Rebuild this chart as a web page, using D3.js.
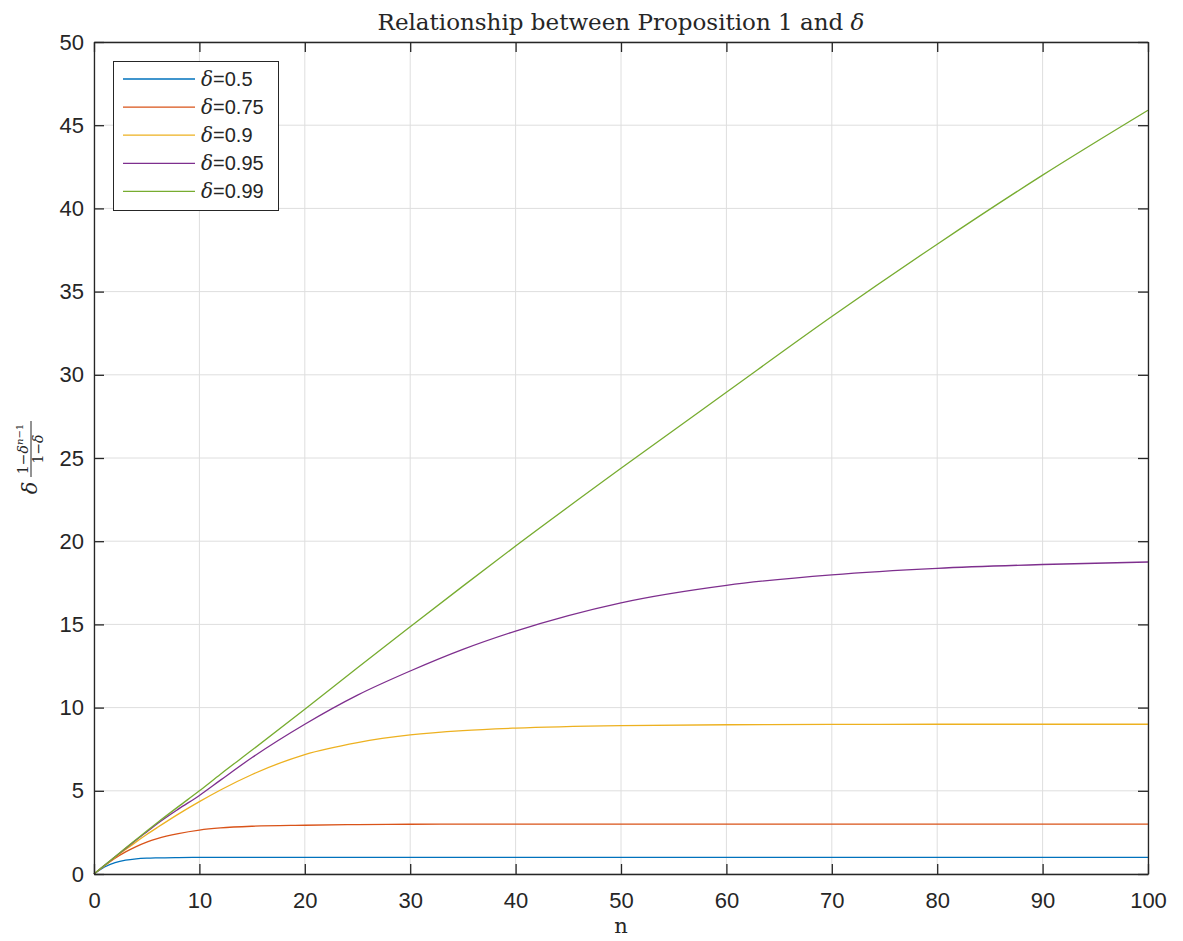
<!DOCTYPE html>
<html>
<head>
<meta charset="utf-8">
<script src="https://cdn.jsdelivr.net/npm/d3@7"></script>
<style>
  body { margin: 0; background: #fff; }
  text { fill: #262626; }
</style>
</head>
<body>
<svg id="chart" width="1183" height="941"></svg>
<script>
// sample points along n, and the curve values
const nValues = [0, 1, 2, 3, 4, 5, 6, 8, 10, 12, 15, 20, 25, 30, 35, 40, 50, 60, 70, 80, 90, 100];
const d050 = [0, 0.42, 0.68, 0.83, 0.91, 0.95, 0.97, 0.99, 1.0, 1.0, 1.0, 1.0, 1.0, 1.0, 1.0, 1.0, 1.0, 1.0, 1.0, 1.0, 1.0, 1.0];
const d075 = [0, 0.5, 0.95, 1.33, 1.65, 1.92, 2.13, 2.43, 2.64, 2.77, 2.87, 2.93, 2.97, 2.99, 3.0, 3.0, 3.0, 3.0, 3.0, 3.0, 3.0, 3.0];
const d090 = [0, 0.5, 1.0, 1.47, 1.93, 2.37, 2.79, 3.6, 4.35, 5.05, 5.98, 7.18, 7.9, 8.36, 8.62, 8.77, 8.92, 8.97, 8.99, 9.0, 9.0, 9.0];
const d095 = [0, 0.52, 1.03, 1.54, 2.04, 2.53, 3.02, 3.9, 4.72, 5.64, 7.0, 9.0, 10.75, 12.2, 13.5, 14.6, 16.3, 17.35, 17.98, 18.37, 18.6, 18.75];
const d099 = [0, 0.52, 1.04, 1.56, 2.07, 2.58, 3.08, 4.05, 5.0, 6.0, 7.45, 9.9, 12.4, 14.86, 17.3, 19.71, 24.38, 28.95, 33.5, 37.85, 42.0, 45.9];
const deltaLabels = ['0.5', '0.75', '0.9', '0.95', '0.99'];
const colors = ['#0072BD', '#D95319', '#EDB120', '#7E2F8E', '#77AC30'];
const xTicks = d3.range(0, 101, 10);
const yTicks = d3.range(0, 51, 5);

const series = [d050, d075, d090, d095, d099].map((vals, i) => ({
  label: deltaLabels[i],
  color: colors[i],
  points: vals.map((v, j) => [nValues[j], v])
}));

const svg = d3.select('#chart'),
  margin = { left: 94, right: 35, top: 42, bottom: 67 },
  W = 1183, H = 941,
  x = d3.scaleLinear().domain([0, 100]).range([margin.left, W - margin.right]),
  y = d3.scaleLinear().domain([0, 50]).range([H - margin.bottom, margin.top]);

const axisColor = '#262626', gridColor = '#dedede', tickLen = 10;

// grid
svg.append('g')
  .selectAll('line')
  .data(xTicks)
  .join('line')
  .attr('x1', d => x(d)).attr('x2', d => x(d))
  .attr('y1', y(0)).attr('y2', y(50))
  .attr('stroke', gridColor).attr('stroke-width', 1);
svg.append('g')
  .selectAll('line')
  .data(yTicks)
  .join('line')
  .attr('x1', x(0)).attr('x2', x(100))
  .attr('y1', d => y(d)).attr('y2', d => y(d))
  .attr('stroke', gridColor).attr('stroke-width', 1);

// curves
const line = d3.line()
  .x(d => x(d[0]))
  .y(d => y(d[1]))
  .curve(d3.curveMonotoneX);

svg.append('g')
  .selectAll('path')
  .data(series)
  .join('path')
  .attr('d', d => line(d.points))
  .attr('fill', 'none')
  .attr('stroke', d => d.color)
  .attr('stroke-width', 1.3);

// axes (ticks inside, box on)
const fontSans = '"Liberation Sans", Arial, Helvetica, sans-serif';
const axB = svg.append('g')
  .attr('transform', `translate(0,${y(0)})`)
  .call(d3.axisBottom(x).tickValues(xTicks).tickSizeInner(-tickLen).tickSizeOuter(0).tickPadding(18));
const axL = svg.append('g')
  .attr('transform', `translate(${x(0)},0)`)
  .call(d3.axisLeft(y).tickValues(yTicks).tickSizeInner(-tickLen).tickSizeOuter(0).tickPadding(10));
const axT = svg.append('g')
  .attr('transform', `translate(0,${y(50)})`)
  .call(d3.axisTop(x).tickValues(xTicks).tickSizeInner(-tickLen).tickSizeOuter(0).tickFormat(''));
const axR = svg.append('g')
  .attr('transform', `translate(${x(100)},0)`)
  .call(d3.axisRight(y).tickValues(yTicks).tickSizeInner(-tickLen).tickSizeOuter(0).tickFormat(''));

[axB, axL, axT, axR].forEach(g => {
  g.select('.domain').attr('stroke', axisColor).attr('stroke-width', 1.3);
  g.selectAll('.tick line').attr('stroke', axisColor).attr('stroke-width', 1.3);
  g.selectAll('.tick text')
    .style('font-family', fontSans)
    .style('font-size', '22px')
    .attr('fill', axisColor);
});

// title
const fontSerif = '"DejaVu Serif", "Liberation Serif", serif';
const title = svg.append('text')
  .attr('x', (x(0) + x(100)) / 2)
  .attr('y', 30)
  .attr('text-anchor', 'middle')
  .style('font-family', fontSerif)
  .style('font-size', '23px');
title.append('tspan').text('Relationship between Proposition 1 and ');
title.append('tspan').style('font-style', 'italic').text('δ');

// x label
svg.append('text')
  .attr('x', (x(0) + x(100)) / 2)
  .attr('y', 933)
  .attr('text-anchor', 'middle')
  .style('font-family', fontSerif)
  .style('font-size', '21px')
  .text('n');

// y label: δ (1−δ^{n−1}) / (1−δ), rotated
const yl = svg.append('g')
  .attr('transform', 'translate(31,460) rotate(-90)')
  .style('font-family', fontSerif);
yl.append('text')
  .attr('x', -28).attr('y', 6)
  .attr('text-anchor', 'middle')
  .style('font-size', '21px').style('font-style', 'italic')
  .text('δ');
yl.append('line')
  .attr('x1', -17).attr('x2', 39)
  .attr('y1', 0).attr('y2', 0)
  .attr('stroke', axisColor).attr('stroke-width', 1);
const num = yl.append('text')
  .attr('x', 11).attr('y', -3)
  .attr('text-anchor', 'middle')
  .style('font-size', '14px');
num.append('tspan').text('1−');
num.append('tspan').style('font-style', 'italic').text('δ');
num.append('tspan').attr('dy', -5).style('font-size', '10px').style('font-style', 'italic').text('n');
num.append('tspan').style('font-size', '10px').text('−1');
const den = yl.append('text')
  .attr('x', 11).attr('y', 12)
  .attr('text-anchor', 'middle')
  .style('font-size', '14px');
den.append('tspan').text('1−');
den.append('tspan').style('font-style', 'italic').text('δ');

// legend
const legend = svg.append('g');
legend.append('rect')
  .attr('x', 113.5).attr('y', 61.5)
  .attr('width', 165).attr('height', 149)
  .attr('fill', '#fff')
  .attr('stroke', axisColor).attr('stroke-width', 1);
const rows = legend.selectAll('g.row')
  .data(series)
  .join('g')
  .attr('class', 'row')
  .attr('transform', (d, i) => `translate(0,${79 + i * 28.1})`);
rows.append('line')
  .attr('x1', 123).attr('x2', 195)
  .attr('y1', 0).attr('y2', 0)
  .attr('stroke', d => d.color).attr('stroke-width', 1.3);
const lt = rows.append('text')
  .attr('x', 201).attr('y', 7)
  .style('font-size', '20px');
lt.append('tspan')
  .style('font-family', fontSerif).style('font-style', 'italic')
  .text('δ');
lt.append('tspan')
  .style('font-family', fontSans)
  .text(d => '=' + d.label);
</script>
</body>
</html>
